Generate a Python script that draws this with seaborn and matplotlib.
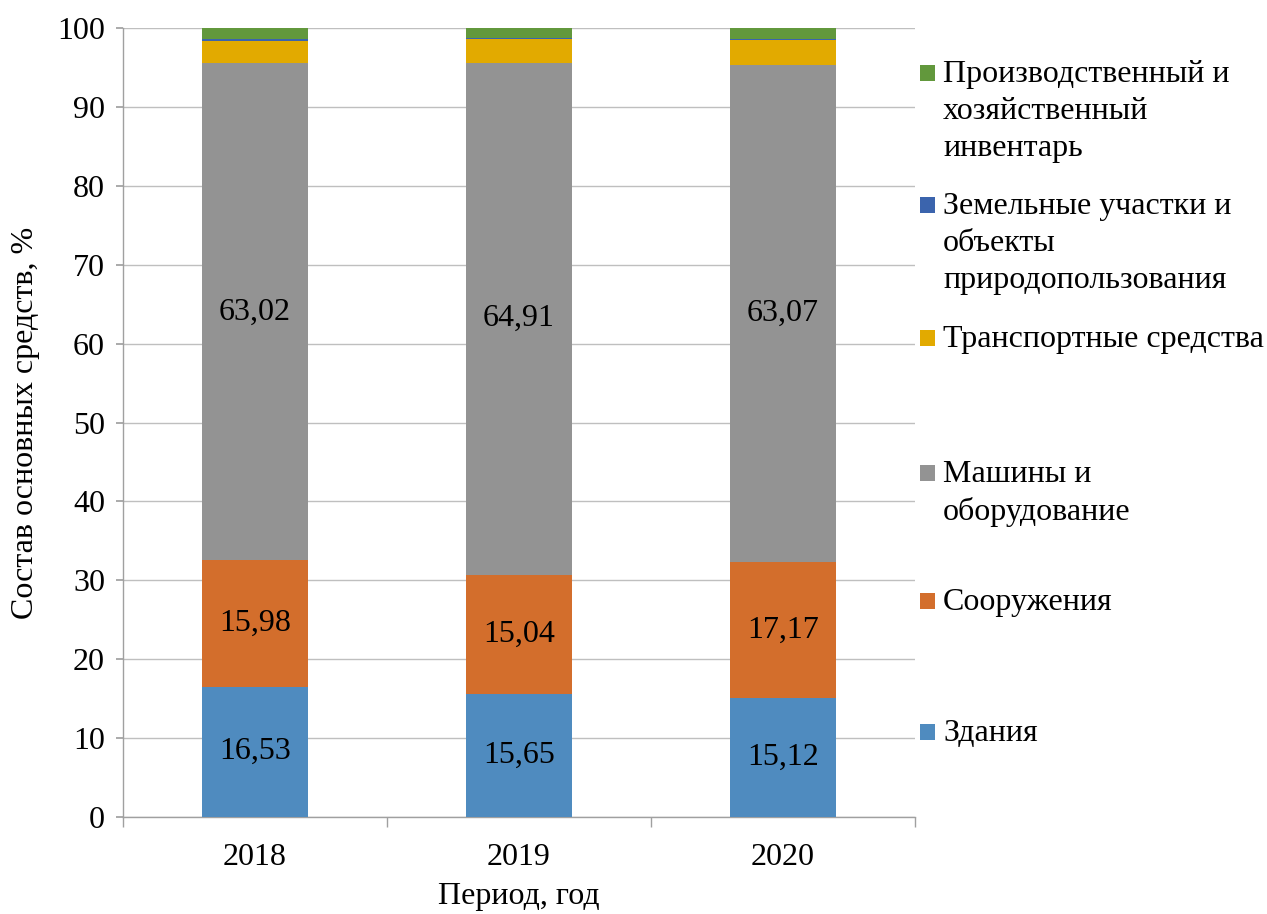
import matplotlib
matplotlib.use("Agg")
import matplotlib.pyplot as plt
import seaborn as sns
import numpy as np
import pandas as pd
from matplotlib.patches import Rectangle

years = ["2018", "2019", "2020"]
zdaniya = [16.53, 15.65, 15.12]
sooruzheniya = [15.98, 15.04, 17.17]
mashiny = [63.02, 64.91, 63.07]
transport = [2.86, 2.97, 3.12]
zemlya = [0.20, 0.13, 0.15]
inventar = [1.41, 1.30, 1.37]

series_names = [
    "Здания",
    "Сооружения",
    "Машины и\nоборудование",
    "Транспортные средства",
    "Земельные участки и\nобъекты\nприродопользования",
    "Производственный и\nхозяйственный\nинвентарь",
]
series_values = [zdaniya, sooruzheniya, mashiny, transport, zemlya, inventar]
colors = ["#4F8BBF", "#D36E2C", "#939393", "#E2AA00", "#3B64AD", "#62983C"]
labelled = [True, True, True, False, False, False]

FS = 23

sns.set_theme(style="white")
plt.rcParams["font.family"] = ["Liberation Serif", "DejaVu Serif"]

fig = plt.figure(figsize=(12.67, 9.14), dpi=100)
ax = fig.add_axes([123 / 1267, 1 - 817 / 914, (915 - 123) / 1267, (817 - 28) / 914])

bottom = np.zeros(len(years))
for name, vals, col, lab in zip(series_names, series_values, colors, labelled):
    vals = np.array(vals)
    df = pd.DataFrame({"year": years, "value": vals})
    sns.barplot(data=df, x="year", y="value", color=col, width=0.4,
                bottom=bottom, ax=ax, zorder=3, linewidth=0, saturation=1)
    if lab:
        for i, v in enumerate(vals):
            ax.text(i, bottom[i] + v / 2, f"{v:.2f}".replace(".", ","),
                    ha="center", va="center", fontsize=FS, color="black", zorder=4)
    bottom = bottom + vals

ax.set_ylim(0, 100)
ax.set_xlim(-0.5, 2.5)
ax.set_yticks(np.arange(0, 101, 10))
ax.yaxis.grid(True, color="#BFBFBF", linewidth=1, zorder=0)
ax.set_axisbelow(True)
for s in ["top", "right"]:
    ax.spines[s].set_visible(False)
for s in ["left", "bottom"]:
    ax.spines[s].set_color("#A0A0A0")
    ax.spines[s].set_linewidth(1)

ax.tick_params(axis="y", which="major", left=True, length=5, color="#A0A0A0",
               labelsize=FS, pad=8, labelcolor="black")
ax.tick_params(axis="x", which="major", bottom=False, labelsize=FS, pad=13, labelcolor="black")
ax.set_xticks([-0.5, 0.5, 1.5, 2.5], minor=True)
ax.tick_params(axis="x", which="minor", bottom=True, length=7, color="#A0A0A0")

ax.set_xlabel("Период, год", fontsize=FS, color="black", labelpad=7)
ax.set_ylabel("Состав основных средств, %", fontsize=FS, color="black", labelpad=12)

# legend, top-to-bottom in reverse stacking order
marker_y = [73, 205, 338, 473, 601, 732]
for name, col, my in zip(series_names[::-1], colors[::-1], marker_y):
    fig.patches.append(Rectangle((920 / 1267, 1 - (my + 8) / 914), 15 / 1267, 16 / 914,
                                 transform=fig.transFigure, facecolor=col, edgecolor="none"))
    fig.text(943 / 1267, 1 - (my - 13) / 914, name, ha="left", va="top",
             fontsize=FS, color="black", linespacing=1.36)

fig.savefig("out.png", dpi=100)
